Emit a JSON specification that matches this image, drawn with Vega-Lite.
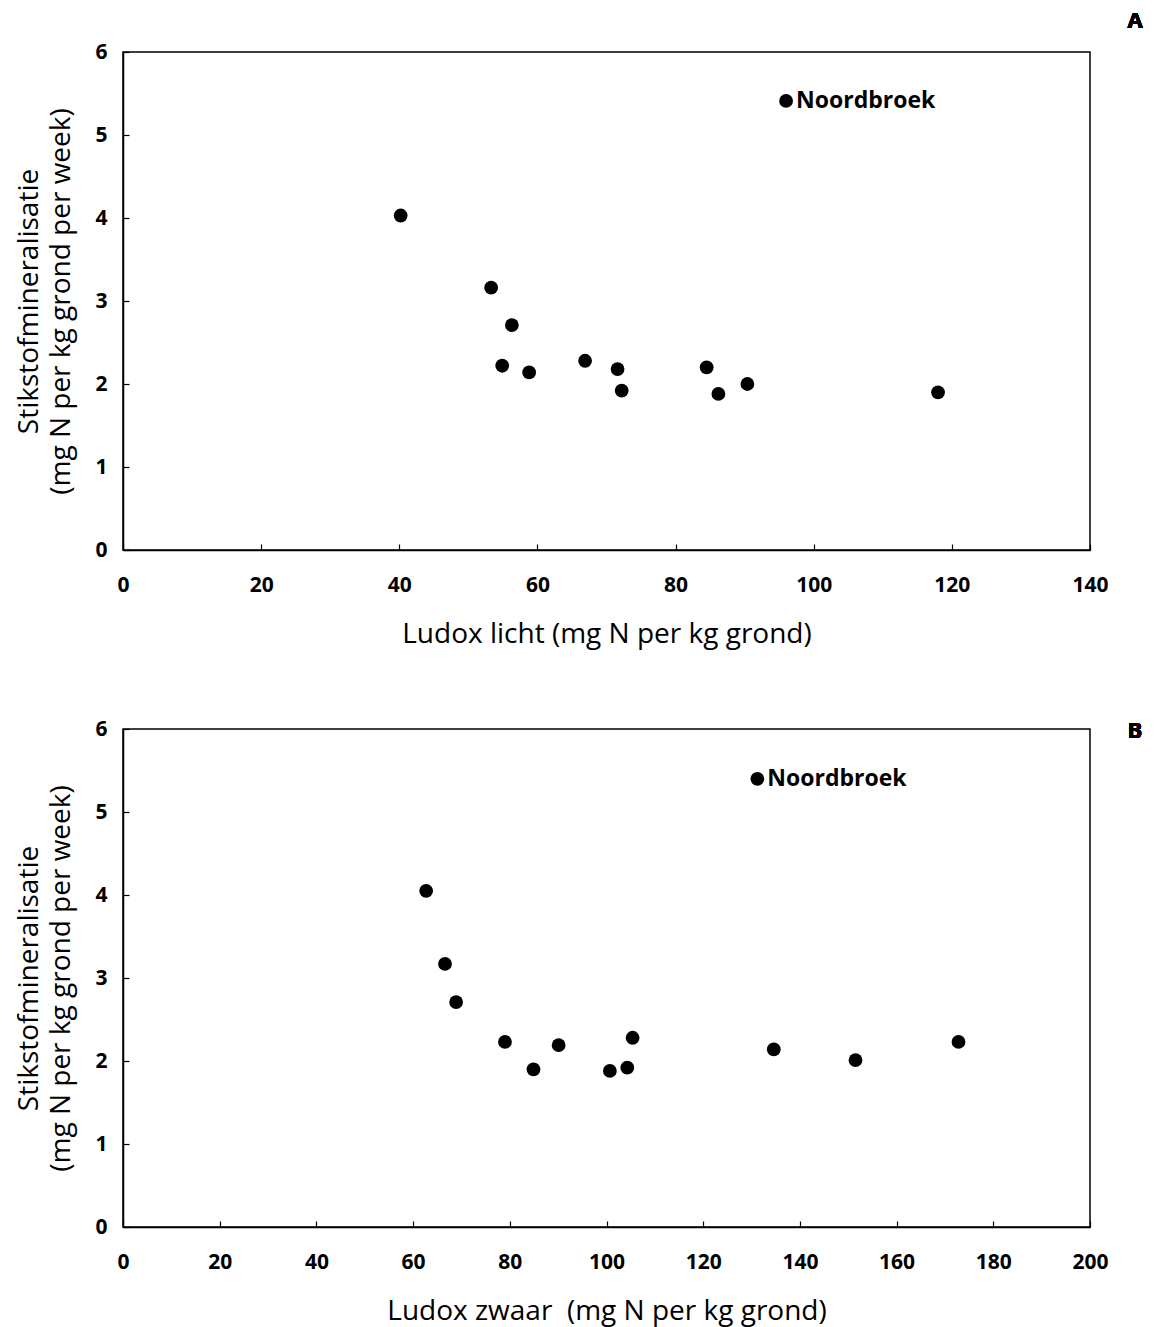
{
  "$schema": "https://vega.github.io/schema/vega-lite/v6.json",
  "padding": {"left": 15, "top": 9, "right": 5, "bottom": 5},
  "background": "white",
  "spacing": 68,
  "datasets": {
    "licht": [
      {"ludox": 40.2, "stikstof": 4.03, "label": ""},
      {"ludox": 53.3, "stikstof": 3.16, "label": ""},
      {"ludox": 56.3, "stikstof": 2.71, "label": ""},
      {"ludox": 54.9, "stikstof": 2.22, "label": ""},
      {"ludox": 58.8, "stikstof": 2.14, "label": ""},
      {"ludox": 66.9, "stikstof": 2.28, "label": ""},
      {"ludox": 71.6, "stikstof": 2.18, "label": ""},
      {"ludox": 72.2, "stikstof": 1.92, "label": ""},
      {"ludox": 84.5, "stikstof": 2.2, "label": ""},
      {"ludox": 86.2, "stikstof": 1.88, "label": ""},
      {"ludox": 90.4, "stikstof": 2.0, "label": ""},
      {"ludox": 118.0, "stikstof": 1.9, "label": ""},
      {"ludox": 96.0, "stikstof": 5.41, "label": "Noordbroek"}
    ],
    "zwaar": [
      {"ludox": 62.7, "stikstof": 4.05, "label": ""},
      {"ludox": 66.6, "stikstof": 3.17, "label": ""},
      {"ludox": 68.9, "stikstof": 2.71, "label": ""},
      {"ludox": 79.0, "stikstof": 2.23, "label": ""},
      {"ludox": 84.9, "stikstof": 1.9, "label": ""},
      {"ludox": 90.1, "stikstof": 2.19, "label": ""},
      {"ludox": 100.7, "stikstof": 1.88, "label": ""},
      {"ludox": 104.3, "stikstof": 1.92, "label": ""},
      {"ludox": 105.4, "stikstof": 2.28, "label": ""},
      {"ludox": 134.6, "stikstof": 2.14, "label": ""},
      {"ludox": 151.5, "stikstof": 2.01, "label": ""},
      {"ludox": 172.8, "stikstof": 2.23, "label": ""},
      {"ludox": 131.2, "stikstof": 5.4, "label": "Noordbroek"}
    ]
  },
  "config": {
    "view": {"stroke": "black", "strokeWidth": 1.5},
    "axis": {
      "grid": false,
      "domainColor": "black",
      "domainWidth": 1.5,
      "tickColor": "black",
      "tickWidth": 1.2,
      "tickSize": -6,
      "labelFlush": false,
      "labelFont": "Open Sans",
      "labelFontWeight": "bold",
      "labelFontSize": 21,
      "labelColor": "black",
      "titleFont": "Open Sans",
      "titleFontWeight": "normal",
      "titleFontSize": 28,
      "titleColor": "black"
    },
    "axisX": {"labelPadding": 30, "titlePadding": 25},
    "axisY": {"labelPadding": 22, "titlePadding": 19, "titleLineHeight": 32}
  },
  "vconcat": [
    {
      "width": 967,
      "height": 498,
      "data": {"name": "licht"},
      "encoding": {
        "x": {"field": "ludox", "type": "quantitative", "scale": {"domain": [0, 140], "nice": false},
              "axis": {"values": [0, 20, 40, 60, 80, 100, 120, 140], "title": "Ludox licht (mg N per kg grond)"}},
        "y": {"field": "stikstof", "type": "quantitative", "scale": {"domain": [0, 6], "nice": false},
              "axis": {"values": [0, 1, 2, 3, 4, 5, 6], "title": ["Stikstofmineralisatie", "(mg N per kg grond per week)"]}}
      },
      "layer": [
        {"mark": {"type": "point", "filled": true, "size": 190, "color": "black", "opacity": 1}},
        {"transform": [{"filter": "datum.label != ''"}],
         "mark": {"type": "text", "align": "left", "baseline": "middle", "dx": 10, "font": "Open Sans", "fontWeight": "bold", "fontSize": 23, "color": "black"},
         "encoding": {"text": {"field": "label"}}},
        {"mark": {"type": "text", "text": "A", "align": "center", "baseline": "middle", "dx": 45, "dy": -31, "font": "Open Sans", "fontWeight": "bold", "fontSize": 22, "color": "black"},
         "encoding": {"x": {"datum": 140}, "y": {"datum": 6}}}
      ]
    },
    {
      "width": 967,
      "height": 498,
      "data": {"name": "zwaar"},
      "encoding": {
        "x": {"field": "ludox", "type": "quantitative", "scale": {"domain": [0, 200], "nice": false},
              "axis": {"values": [0, 20, 40, 60, 80, 100, 120, 140, 160, 180, 200], "title": "Ludox zwaar\u00a0 (mg N per kg grond)"}},
        "y": {"field": "stikstof", "type": "quantitative", "scale": {"domain": [0, 6], "nice": false},
              "axis": {"values": [0, 1, 2, 3, 4, 5, 6], "title": ["Stikstofmineralisatie", "(mg N per kg grond per week)"]}}
      },
      "layer": [
        {"mark": {"type": "point", "filled": true, "size": 190, "color": "black", "opacity": 1}},
        {"transform": [{"filter": "datum.label != ''"}],
         "mark": {"type": "text", "align": "left", "baseline": "middle", "dx": 10, "font": "Open Sans", "fontWeight": "bold", "fontSize": 23, "color": "black"},
         "encoding": {"text": {"field": "label"}}},
        {"mark": {"type": "text", "text": "B", "align": "center", "baseline": "middle", "dx": 45, "dy": 2, "font": "Open Sans", "fontWeight": "bold", "fontSize": 22, "color": "black"},
         "encoding": {"x": {"datum": 200}, "y": {"datum": 6}}}
      ]
    }
  ]
}
